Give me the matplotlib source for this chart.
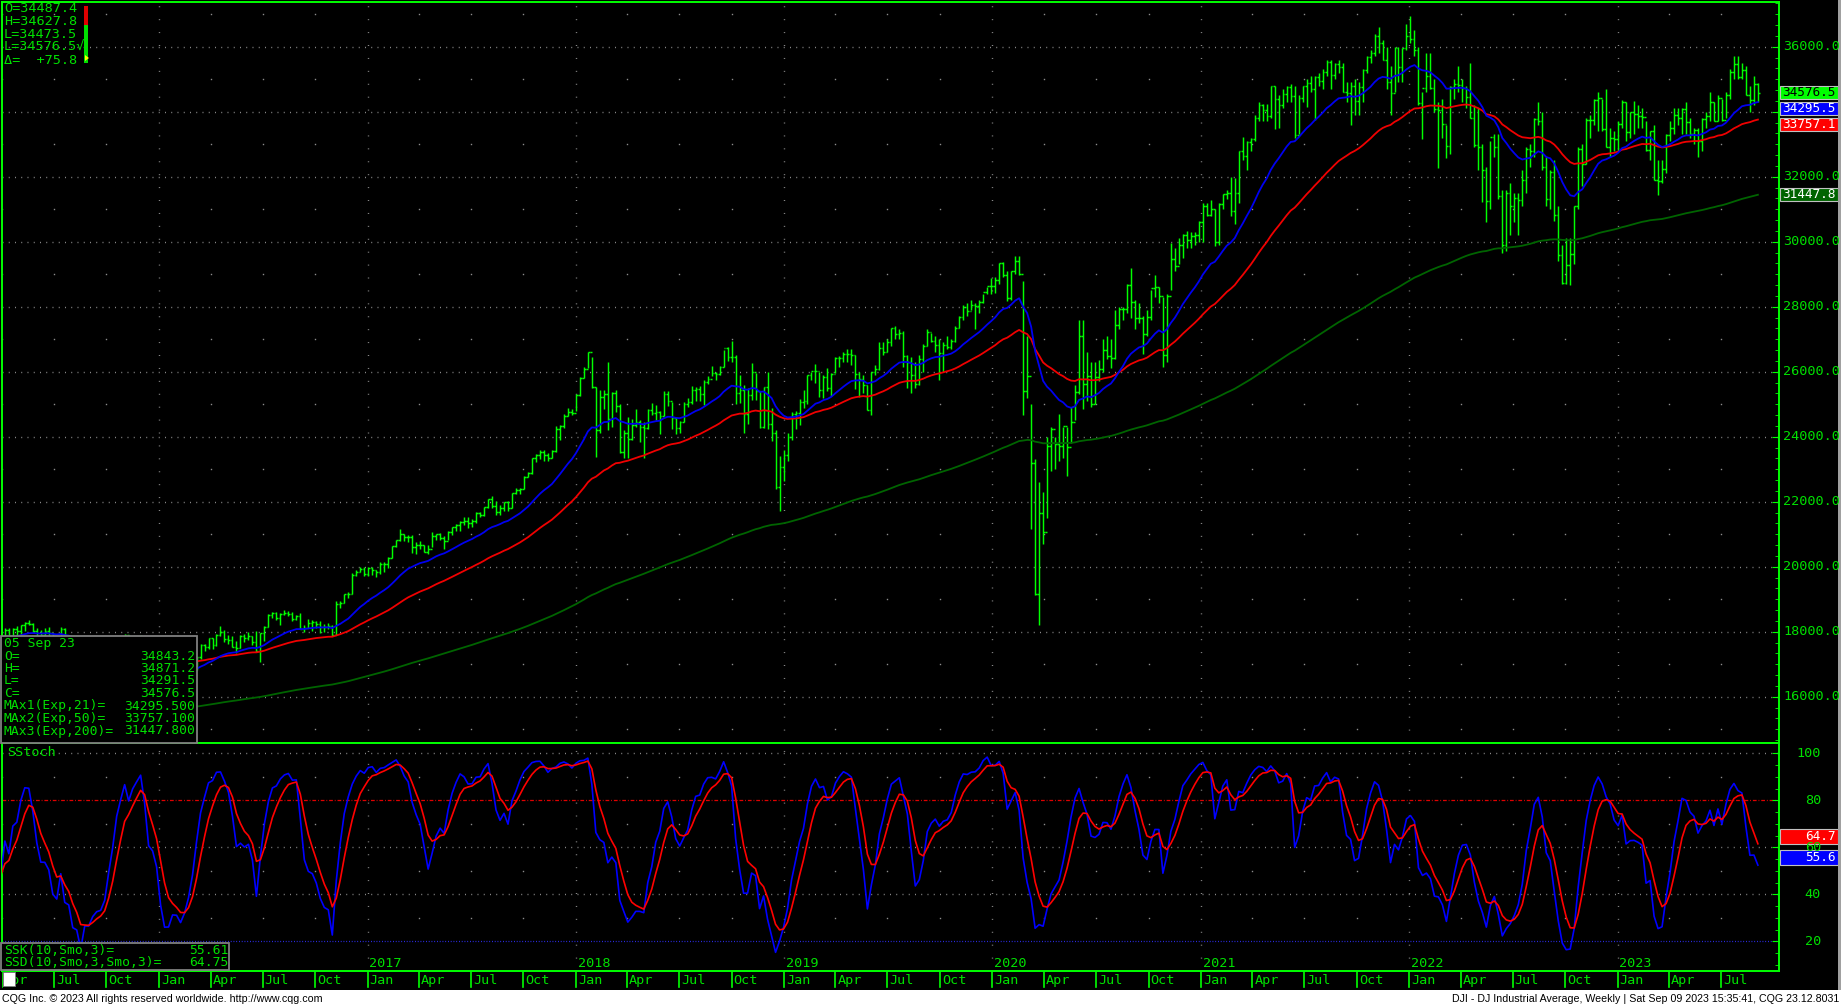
import matplotlib
matplotlib.use("Agg")
import matplotlib.pyplot as plt
import matplotlib.dates as mdates
import matplotlib.transforms as mtransforms
from matplotlib.collections import LineCollection
from matplotlib.patches import Rectangle, Polygon
import numpy as np
import pandas as pd

# weekly DJI bars: (high, low, close), weeks starting Monday
bars_2015 = [
    (17960, 17580, 17763), (18100, 17750, 18057), (18110, 17800, 17826), (18120, 17800, 18080),
    (18180, 17830, 18024), (18200, 17770, 18191), (18300, 18020, 18272), (18350, 18200, 18232),
    (18270, 17990, 18011), (18100, 17800, 17849), (18060, 17630, 17898), (18100, 17730, 18015),
    (18140, 17880, 17947), (17960, 17580, 17730), (17790, 17460, 17760), (18130, 17770, 18086),
    (18120, 17560, 17568), (17770, 17400, 17690), (17720, 17320, 17373), (17650, 17280, 17477),
    (17500, 16450, 16460), (16660, 15370, 16643), (16660, 16000, 16102), (16500, 16080, 16433),
    (16930, 16360, 16385), (16520, 16120, 16315), (16500, 15940, 16472), (17100, 16470, 17084),
    (17250, 16870, 17216), (17650, 17140, 17646), (17800, 17450, 17664), (17920, 17600, 17910),
    (17900, 17240, 17245), (17830, 17200, 17824), (17850, 17700, 17798), (17900, 17420, 17848),
    (17860, 17250, 17265), (17800, 17120, 17128), (17600, 17130, 17552), (17750, 17420, 17425),
]
bars_2016 = [
    (17400, 16300, 16346), (16600, 15840, 15988), (16160, 15450, 16094), (16480, 15880, 16466),
    (16510, 16000, 16205), (16240, 15500, 15974), (16450, 15990, 16392), (16800, 16170, 16640),
    (17080, 16510, 17006), (17230, 16820, 17213), (17620, 17150, 17602), (17630, 17420, 17515),
    (17800, 17470, 17793), (17800, 17480, 17577), (17920, 17550, 17897), (18170, 17880, 18003),
    (18050, 17670, 17774), (17900, 17630, 17741), (17870, 17520, 17535), (17720, 17330, 17500),
    (17890, 17500, 17873), (17930, 17680, 17807), (18000, 17730, 17865), (17870, 17600, 17675),
    (18010, 17360, 17400), (17950, 17060, 17949), (18170, 17710, 18147), (18540, 18150, 18516),
    (18620, 18430, 18571), (18600, 18360, 18432), (18560, 18200, 18543), (18670, 18520, 18576),
    (18650, 18470, 18552), (18600, 18320, 18395), (18500, 18350, 18492), (18560, 18080, 18085),
    (18200, 17990, 18124), (18400, 18100, 18262), (18370, 18030, 18308), (18330, 18100, 18240),
    (18330, 17960, 18138), (18230, 18000, 18145), (18260, 18080, 18161), (18200, 17880, 17888),
    (18930, 17900, 18847), (18930, 18740, 18868), (19160, 18880, 19152), (19230, 19040, 19171),
    (19800, 19160, 19757), (19900, 19700, 19843), (19990, 19850, 19934), (19980, 19720, 19763),
]
bars_2017 = [
    (19990, 19720, 19964), (19990, 19750, 19886), (19890, 19680, 19827), (20130, 19780, 20094),
    (20130, 19830, 20071), (20300, 19950, 20270), (20640, 20260, 20624), (20830, 20600, 20822),
    (21170, 20800, 21006), (21010, 20800, 20903), (20990, 20770, 20915), (20970, 20410, 20597),
    (20750, 20400, 20663), (20800, 20550, 20656), (20680, 20450, 20453), (20660, 20380, 20548),
    (21070, 20600, 20941), (21020, 20830, 21007), (21040, 20830, 20897), (20950, 20550, 20804),
    (21110, 20810, 21080), (21230, 20990, 21206), (21300, 21090, 21272), (21400, 21100, 21384),
    (21540, 21280, 21395), (21530, 21200, 21350), (21480, 21210, 21414), (21690, 21350, 21638),
    (21690, 21530, 21580), (21830, 21560, 21830), (22090, 21820, 22092), (22180, 21800, 21858),
    (22030, 21600, 21675), (21900, 21600, 21814), (21990, 21700, 21988), (22010, 21710, 21798),
    (22270, 21800, 22268), (22420, 22240, 22350), (22420, 22240, 22405), (22780, 22400, 22773),
    (22900, 22760, 22871), (23330, 22840, 23329), (23480, 23220, 23434), (23600, 23320, 23539),
    (23600, 23250, 23422), (23500, 23240, 23358), (23600, 23330, 23558), (24330, 23540, 24231),
    (24350, 23900, 24329), (24700, 24280, 24651), (24880, 24650, 24754), (24840, 24660, 24719),
]
bars_2018 = [
    (25300, 24800, 25296), (25830, 25260, 25803), (26150, 25800, 26072), (26620, 26100, 26617),
    (26440, 25500, 25521), (25530, 23360, 24191), (25430, 24120, 25219), (25440, 24850, 25310),
    (26310, 24200, 24538), (25380, 24300, 25336), (25450, 24750, 24946), (25000, 23500, 23533),
    (24200, 23340, 24103), (24600, 23340, 23933), (24530, 23900, 24360), (24860, 24300, 24463),
    (24500, 23850, 24311), (24460, 23340, 24263), (24840, 24240, 24831), (25040, 24680, 24715),
    (24990, 24500, 24753), (24800, 24080, 24635), (25400, 24650, 25317), (25400, 24950, 25090),
    (25070, 24250, 24580), (24600, 24080, 24271), (24480, 24100, 24456), (25060, 24440, 25019),
    (25200, 24910, 25058), (25560, 25000, 25451), (25520, 25100, 25463), (25560, 25100, 25313),
    (25730, 24960, 25669), (25880, 25620, 25790), (26170, 25880, 25965), (26000, 25750, 25917),
    (26180, 25890, 26154), (26660, 26140, 26743), (26770, 26340, 26458), (26950, 26300, 26447),
    (26500, 25000, 25340), (25900, 25040, 25444), (25600, 24120, 24688), (25500, 24400, 25270),
    (26280, 25120, 25989), (25970, 25130, 25413), (25410, 24270, 24286), (25540, 24280, 25538),
    (25980, 24240, 24389), (24890, 23880, 24100), (24200, 22400, 22445), (23400, 21710, 23062),
    (23600, 22640, 23433),
]
bars_2019 = [
    (24100, 23260, 23996), (24750, 23890, 24706), (24800, 24240, 24737), (25150, 24350, 25064),
    (25440, 24880, 25106), (25900, 25000, 25883), (26000, 25750, 26031), (26240, 25650, 26026),
    (26000, 25210, 25450), (25900, 25200, 25849), (26100, 25400, 25502), (25950, 25260, 25929),
    (26450, 25950, 26425), (26480, 26150, 26412), (26620, 26300, 26559), (26700, 26300, 26543),
    (26700, 26200, 26505), (26500, 25470, 25942), (26000, 25220, 25764), (25900, 25330, 25585),
    (25600, 24810, 24815), (25990, 24680, 25984), (26200, 25900, 26089), (26900, 26050, 26719),
    (26900, 26500, 26600), (27000, 26600, 26922), (27350, 26800, 27332), (27400, 27000, 27154),
    (27300, 27000, 27192), (27250, 26150, 26485), (26500, 25500, 26287), (26450, 25340, 25886),
    (26300, 25500, 25628), (26500, 25600, 26403), (26850, 26000, 26797), (27300, 26800, 27220),
    (27200, 26900, 26935), (27100, 26600, 26820), (27000, 25740, 26573), (26900, 26000, 26816),
    (27100, 26700, 26770), (27000, 26700, 26958), (27400, 26900, 27347), (27700, 27350, 27681),
    (28050, 27600, 28005), (28100, 27700, 27876), (28200, 27900, 28051), (28100, 27320, 28015),
    (28200, 27800, 28135), (28400, 28100, 28455), (28620, 28400, 28645), (28880, 28400, 28634),
]
bars_2020 = [
    (28900, 28420, 28823), (29350, 28700, 29348), (29370, 28900, 28990), (29100, 28170, 28256),
    (29100, 28200, 29102), (29570, 29000, 29398), (29570, 28990, 28992), (28800, 24680, 25409),
    (27100, 25200, 25865), (25000, 21150, 23186), (23300, 19120, 19174), (22600, 18210, 21637),
    (22300, 20700, 21053), (24000, 21500, 23719), (24300, 22940, 24242), (24000, 23000, 23775),
    (24700, 23250, 23724), (24300, 23350, 24331), (24300, 22800, 23685), (24900, 23800, 24465),
    (25600, 24500, 25383), (27580, 25300, 27111), (27600, 24850, 25606), (26600, 25100, 25871),
    (26300, 24900, 25016), (26300, 25000, 25827), (26350, 25700, 26075), (27000, 26000, 26672),
    (27100, 26400, 26470), (27000, 26100, 26428), (27900, 26400, 27433), (28000, 27300, 27931),
    (28000, 27600, 27930), (28700, 27800, 28654), (29200, 27660, 28133), (28200, 27300, 27666),
    (28100, 27500, 27657), (27700, 26540, 27174), (27900, 27100, 27683), (28500, 27600, 28587),
    (28960, 28300, 28606), (28600, 28100, 28335), (28300, 26140, 26501), (28400, 26300, 28323),
    (29950, 28500, 29479), (29800, 29100, 29263), (30120, 29300, 29910), (30230, 29500, 30218),
    (30320, 29800, 30046), (30300, 29800, 30179), (30300, 29900, 30199), (30640, 30000, 30606),
]
bars_2021 = [
    (31200, 30000, 31098), (31200, 30800, 30814), (31270, 30800, 30997), (31000, 29860, 29983),
    (31200, 29900, 31148), (31460, 31000, 31458), (31600, 31300, 31494), (32000, 30800, 30932),
    (31950, 30550, 31496), (32800, 31200, 32779), (33230, 32500, 32628), (33100, 32200, 33073),
    (33200, 32800, 33153), (33900, 33100, 33801), (34300, 33700, 34200), (34250, 33700, 34043),
    (34250, 33700, 33875), (34800, 33800, 34778), (34800, 33470, 34382), (34500, 33500, 34208),
    (34700, 34100, 34529), (34800, 34300, 34756), (34850, 34300, 34480), (34800, 33200, 33290),
    (34500, 33300, 34433), (34800, 34300, 34786), (35000, 34150, 34870), (35100, 34600, 34687),
    (35100, 33740, 35062), (35200, 34800, 34935), (35300, 34700, 35209), (35600, 35100, 35515),
    (35600, 34700, 35120), (35500, 35000, 35456), (35600, 35200, 35369), (35500, 34600, 34608),
    (34900, 34300, 34584), (34900, 33600, 34798), (35000, 33900, 34326), (34900, 33900, 34746),
    (35300, 34300, 35295), (35700, 35200, 35677), (35900, 35500, 35820), (36400, 35700, 36328),
    (36600, 35800, 36100), (36200, 35600, 35602), (36000, 34700, 34899), (35400, 33900, 34580),
    (36000, 34600, 35971), (36000, 34900, 35365), (35950, 34900, 35950), (36700, 35900, 36338),
]
bars_2022 = [
    (36950, 36100, 36231), (36500, 35700, 35912), (36000, 34200, 34265), (34600, 33150, 34725),
    (35800, 34600, 35089), (35800, 34700, 34738), (35000, 34000, 34079), (34300, 32270, 34059),
    (34400, 33200, 33614), (33600, 32580, 32944), (34800, 32700, 34755), (35000, 34400, 34862),
    (35400, 34600, 34818), (35000, 34300, 34721), (34800, 34100, 34451), (35500, 33800, 33811),
    (34200, 32900, 32977), (34120, 32200, 32899), (33000, 31230, 32197), (32300, 30600, 31262),
    (33100, 31000, 33213), (33300, 32600, 32900), (33300, 31300, 31393), (31600, 29650, 29889),
    (31600, 29700, 31501), (31800, 30200, 31097), (31500, 30600, 31339), (31500, 30200, 31288),
    (32200, 31100, 31900), (32900, 31500, 32845), (33000, 32300, 32803), (33800, 32600, 33761),
    (34300, 33600, 33706), (34000, 32200, 32283), (32600, 31100, 31318), (32200, 31000, 32152),
    (32500, 30650, 30822), (31100, 29400, 29590), (29900, 28710, 28725), (30100, 28700, 29297),
    (30100, 28660, 29635), (31100, 29300, 31083), (32900, 31000, 32862), (33000, 31700, 32403),
    (33800, 32400, 33748), (33900, 33200, 33746), (34400, 33600, 34347), (34600, 33400, 34430),
    (34400, 33400, 33477), (34700, 32900, 32920), (33500, 32600, 33204), (33400, 32800, 33147),
]
bars_2023 = [
    (33700, 32800, 33631), (34350, 33500, 34303), (34300, 33100, 33375), (34000, 33200, 33978),
    (34340, 33300, 33926), (34200, 33500, 33870), (34100, 33500, 33827), (33700, 32800, 32817),
    (33400, 32500, 33391), (33600, 31900, 31910), (32500, 31430, 31862), (32500, 31800, 32237),
    (33300, 32100, 33274), (33700, 33100, 33485), (34100, 33300, 33887), (34100, 33600, 33809),
    (34100, 33300, 34098), (34300, 33300, 33674), (33800, 33200, 33300), (33500, 33000, 33427),
    (33500, 32600, 33093), (33800, 32800, 33763), (34000, 33500, 33877), (34600, 33700, 34299),
    (34300, 33700, 33727), (34500, 33700, 34408), (34400, 33700, 33734), (34600, 33800, 34509),
    (35300, 34400, 35228), (35700, 35000, 35459), (35700, 35000, 35066), (35500, 35000, 35281),
    (35400, 34500, 34500), (34800, 34000, 34347), (35100, 34200, 34838), (34871.2, 34291.5, 34576.5),
]
last_open = 34843.2
last_week = "2023-09-04"

# starting levels of the moving averages at the first bar (hidden under the info box)
ema_seeds = {21: 17800, 50: 17300, 200: 14700}

# readouts shown on the chart
quote_lines = ["O=34487.4", "H=34627.8", "L=34473.5", "L=34576.5\u221a", "\u0394=  +75.8"]
info_rows = [("05 Sep 23", ""), ("O=", "34843.2"), ("H=", "34871.2"), ("L=", "34291.5"),
             ("C=", "34576.5"), ("MAx1(Exp,21)=", "34295.500"), ("MAx2(Exp,50)=", "33757.100"),
             ("MAx3(Exp,200)=", "31447.800")]
stoch_rows = [("SSK(10,Smo,3)=", "55.61"), ("SSD(10,Smo,3,Smo,3)=", "64.75")]
# value flags on the price scale, bottom-most first so the last one sits on top
price_boxes = [(31447.8, "31447.8", "#006400", "white"), (33757.1, "33757.1", "#FF0000", "white"),
               (34295.5, "34295.5", "#0000FF", "white"), (34576.5, "34576.5", "#00FF00", "black")]
stoch_boxes = [(64.7, "64.7", "#FF0000"), (55.6, "55.6", "#0000FF")]
price_ticks = list(range(16000, 36001, 2000))
stoch_ticks = [20, 40, 60, 80, 100]
footer_left = "CQG Inc. \u00a9 2023 All rights reserved worldwide. http://www.cqg.com"
footer_right = "DJI - DJ Industrial Average, Weekly | Sat Sep 09 2023 15:35:41, CQG 23.12.8031"

W, H = 1841, 1008
GREEN = "#00FF00"
TXT = "#00E000"
GRID = "#8c8c8c"
MONO = "DejaVu Sans Mono"
FS = 9.7
FS_BOX = 9.2
plt.rcParams["font.family"] = MONO


def fb(x0, y0, x1, y1):
    # pixel box (top-left origin) -> figure fraction rect
    return [x0 / W, 1 - y1 / H, (x1 - x0) / W, (y1 - y0) / H]


def fx(x):
    return x / W


def fy(y):
    return 1 - y / H


rows = bars_2015 + bars_2016 + bars_2017 + bars_2018 + bars_2019 + bars_2020 + bars_2021 + bars_2022 + bars_2023
highs = np.array([r[0] for r in rows], float)
lows = np.array([r[1] for r in rows], float)
closes = np.array([r[2] for r in rows], float)
opens = np.r_[closes[0], closes[:-1]]
opens[-1] = last_open
dates = pd.date_range(end=last_week, periods=len(rows), freq="W-MON")
xd = mdates.date2num(dates)


def ema(values, span, seed):
    a = 2.0 / (span + 1)
    out = np.empty_like(values)
    prev = seed
    for i, v in enumerate(values):
        prev = prev + a * (v - prev)
        out[i] = prev
    return out


ema21 = ema(closes, 21, ema_seeds[21])
ema50 = ema(closes, 50, ema_seeds[50])
ema200 = ema(closes, 200, ema_seeds[200])

c_s, h_s, l_s = pd.Series(closes), pd.Series(highs), pd.Series(lows)
hh = h_s.rolling(10, min_periods=1).max()
ll = l_s.rolling(10, min_periods=1).min()
fast_k = 100 * (c_s - ll) / (hh - ll)
ssk = fast_k.ewm(alpha=1 / 3, adjust=False).mean().values
ssd = pd.Series(ssk).ewm(alpha=1 / 3, adjust=False).mean().values

fig = plt.figure(figsize=(W / 100, H / 100), dpi=100, facecolor="black")
ax = fig.add_axes(fb(2, 2, 1779, 743))
ax_st = fig.add_axes(fb(2, 743, 1779, 971), sharex=ax)
ax_t = fig.add_axes(fb(2, 971, 1779, 990), sharex=ax)

x_left = mdates.date2num(pd.Timestamp("2015-04-01"))
x_right = x_left + 3115
ax.set_xlim(x_left, x_right)
ax.set_ylim(14575, 37375)
ax_st.set_ylim(7.36, 104.4)
ax_t.set_ylim(0, 1)

for a in (ax, ax_st, ax_t):
    a.set_facecolor("black")
    a.tick_params(axis="x", which="both", bottom=False, top=False, labelbottom=False)
    for s in a.spines.values():
        s.set_color(GREEN)
        s.set_linewidth(1.4)

ax_t.set_yticks([])
for s in ax_t.spines.values():
    s.set_visible(False)

# grid: year lines, level lines, sparse quarter dots
years = pd.date_range("2016-01-01", "2023-01-01", freq="YS")
quarters = [q for q in pd.date_range("2015-04-01", "2023-09-01", freq="QS") if q.month != 1]
for a in (ax, ax_st):
    for yv in years:
        a.axvline(mdates.date2num(yv), color=GRID, lw=1.0, ls=(0, (0.7, 8.6)), zorder=1)
for lvl in price_ticks:
    ax.axhline(lvl, color=GRID, lw=1.0, ls=(0, (0.7, 3.8)), zorder=1)
qx = mdates.date2num(pd.DatetimeIndex(quarters))
for lvl in range(15000, 37001, 2000):
    ax.plot(qx, np.full(len(qx), lvl), ls="none", marker="s", ms=1.0, color=GRID, mew=0)
for lvl in (30, 50, 70, 90):
    ax_st.plot(qx, np.full(len(qx), lvl), ls="none", marker="s", ms=1.0, color=GRID, mew=0)
for lvl in (100, 60, 40):
    ax_st.axhline(lvl, color=GRID, lw=1.0, ls=(0, (0.7, 3.8)), zorder=1)
ax_st.axhline(80, color="#E00000", lw=0.9, ls=(0, (3, 1.5, 0.7, 1.5)), zorder=1)
ax_st.axhline(20, color="#3030FF", lw=0.9, ls=(0, (0.7, 1.5)), zorder=1)

# OHLC bars
segs = []
for xi, o, hi, lo, c in zip(xd, opens, highs, lows, closes):
    segs.append([(xi, lo), (xi, hi)])
    segs.append([(xi - 3, o), (xi, o)])
    segs.append([(xi, c), (xi + 3, c)])
ax.add_collection(LineCollection(segs, colors=GREEN, linewidths=1.05, zorder=2))

ax.plot(xd, ema200, color="#006400", lw=1.3, zorder=3)
ax.plot(xd, ema50, color="#F00000", lw=1.3, zorder=3)
ax.plot(xd, ema21, color="#0000F0", lw=1.3, zorder=3)

ax_st.plot(xd, ssk, color="#0000FF", lw=1.2, zorder=3)
ax_st.plot(xd, ssd, color="#FF0000", lw=1.2, zorder=3)

# right-hand scales (ticks inside the right spine)
ax.yaxis.tick_right()
ax.set_yticks(price_ticks)
ax.set_yticklabels([])
ax.yaxis.set_minor_locator(matplotlib.ticker.MultipleLocator(2000 / 6))
ax.tick_params(axis="y", which="both", direction="in", color=GREEN, left=False, right=True)
ax.tick_params(axis="y", which="major", length=5)
ax.tick_params(axis="y", which="minor", length=3)
ax_st.yaxis.tick_right()
ax_st.set_yticks(stoch_ticks)
ax_st.set_yticklabels([])
ax_st.yaxis.set_minor_locator(matplotlib.ticker.MultipleLocator(5))
ax_st.tick_params(axis="y", which="both", direction="in", color=GREEN, left=False, right=True)
ax_st.tick_params(axis="y", which="major", length=5)
ax_st.tick_params(axis="y", which="minor", length=3)


def px_y(a, v):
    return H - a.transData.transform((a.get_xlim()[0], v))[1]


# price flags: keep each flag below the one above it so the texts do not collide
centers = [px_y(ax, val) for val, _, _, _ in price_boxes]
order = np.argsort(centers)
placed = {}
last_center = -100
for i in order:
    yc = max(centers[i], last_center + 16)
    placed[i] = yc
    last_center = yc

# scale labels; the ones sitting under a flag are covered, as on the chart
for lvl in price_ticks:
    yl = px_y(ax, lvl)
    if min(abs(yl - yc) for yc in placed.values()) < 14:
        continue
    fig.text(fx(1783), fy(yl), f"{lvl:.1f}", color=TXT, fontsize=FS,
             va="center", ha="left", family=MONO)
for lvl in stoch_ticks:
    fig.text(fx(1821), fy(px_y(ax_st, lvl)), f"{lvl}", color=TXT, fontsize=FS,
             va="center", ha="right", family=MONO)

for i, (val, label, fc, tc) in enumerate(price_boxes):
    yc = placed[i]
    fig.add_artist(Rectangle((fx(1780), fy(yc + 6.5)), (1838 - 1780) / W, 13 / H,
                             transform=fig.transFigure, facecolor=fc, edgecolor="#C0C0C0", lw=0.8))
    fig.text(fx(1782), fy(yc), label, color=tc, fontsize=FS_BOX, va="center", ha="left", family=MONO)
for val, label, fc in stoch_boxes:
    yc = px_y(ax_st, val)
    fig.add_artist(Rectangle((fx(1780), fy(yc + 7.5)), (1838 - 1780) / W, 15 / H,
                             transform=fig.transFigure, facecolor=fc, edgecolor="#C0C0C0", lw=0.8))
    fig.text(fx(1836), fy(yc), label, color="white", fontsize=FS_BOX, va="center", ha="right", family=MONO)

# time axis
for q in pd.date_range("2015-04-01", "2023-09-01", freq="QS"):
    qn = mdates.date2num(q)
    ax_t.axvline(qn, ymin=0.15, ymax=1, color=GREEN, lw=1.2)
    ax_t.text(qn + 3.5, 0.5, q.strftime("%b"), color=TXT, fontsize=FS, va="center", ha="left",
              family=MONO, clip_on=True)
yr_tr = mtransforms.blended_transform_factory(ax_st.transData, ax_st.transAxes)
for yv in years[1:]:
    ax_st.text(mdates.date2num(yv) + 3, 0.035, str(yv.year), color=TXT, fontsize=FS,
               va="center", ha="left", transform=yr_tr, family=MONO)
ax_t.axhline(1.0, color=GREEN, lw=1.4)

# readout boxes
fig.add_artist(Rectangle((fx(1), fy(743)), 196 / W, 107 / H, transform=fig.transFigure,
                         facecolor="black", edgecolor="#808080", lw=1.3, zorder=5))
for i, (lab, val) in enumerate(info_rows):
    yc = 643.5 + i * 12.5
    fig.text(fx(4), fy(yc), lab, color=TXT, fontsize=9.4, va="center", ha="left", zorder=6, family=MONO)
    if val:
        fig.text(fx(195), fy(yc), val, color=TXT, fontsize=9.4, va="center", ha="right", zorder=6, family=MONO)

fig.add_artist(Rectangle((fx(1), fy(970)), 228 / W, 27 / H, transform=fig.transFigure,
                         facecolor="black", edgecolor="#808080", lw=1.3, zorder=5))
for i, (lab, val) in enumerate(stoch_rows):
    yc = 950.5 + i * 12.5
    fig.text(fx(4), fy(yc), lab, color=TXT, fontsize=9.4, va="center", ha="left", zorder=6, family=MONO)
    fig.text(fx(228), fy(yc), val, color=TXT, fontsize=9.4, va="center", ha="right", zorder=6, family=MONO)

fig.text(fx(7), fy(752.5), "SStoch", color=TXT, fontsize=FS, va="center", ha="left", family=MONO)

for i, line in enumerate(quote_lines):
    fig.text(fx(4), fy(8.3 + i * 13.1), line, color=TXT, fontsize=FS, va="center", ha="left",
             family=[MONO, "DejaVu Sans"])
fig.add_artist(Rectangle((fx(84), fy(25)), 4 / W, 19 / H, transform=fig.transFigure,
                         facecolor="#E00000", edgecolor="none"))
fig.add_artist(Rectangle((fx(84), fy(63)), 4 / W, 38 / H, transform=fig.transFigure,
                         facecolor="#00E000", edgecolor="none"))
fig.add_artist(Polygon([(fx(85), fy(55)), (fx(85), fy(61)), (fx(89), fy(58))], closed=True,
                       transform=fig.transFigure, facecolor="#FFFF00", edgecolor="none"))

# little white block at the start of the time axis, right gray margin, footer
fig.add_artist(Rectangle((fx(3), fy(986)), 12 / W, 14 / H, transform=fig.transFigure,
                         facecolor="white", edgecolor="#808080", lw=0.6, zorder=6))
fig.add_artist(Rectangle((fx(1838), fy(990)), 3 / W, 990 / H, transform=fig.transFigure,
                         facecolor="#A0A0A0", edgecolor="none"))
fig.add_artist(Rectangle((0, 0), 1, 18 / H, transform=fig.transFigure,
                         facecolor="white", edgecolor="none"))
fig.text(fx(2), fy(999.5), footer_left, color="black", fontsize=7.7, va="center", ha="left",
         family="Liberation Sans")
fig.text(fx(1839), fy(999.5), footer_right, color="black", fontsize=7.7, va="center", ha="right",
         family="Liberation Sans")

fig.savefig("out.png", dpi=100, facecolor="black")
